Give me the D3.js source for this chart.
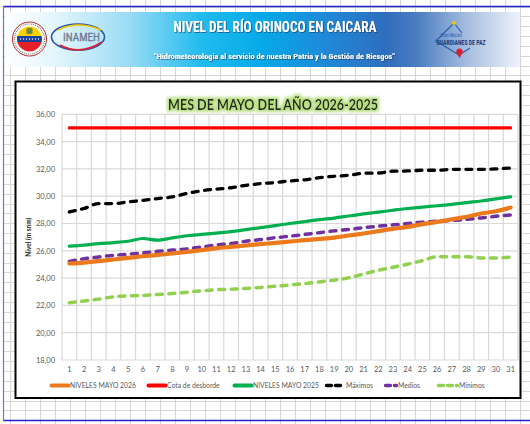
<!DOCTYPE html>
<html>
<head>
<meta charset="utf-8">
<script src="https://cdn.jsdelivr.net/npm/d3@7"></script>
<style>
  body { margin: 0; background: #fff; }
  svg { display: block; }
</style>
</head>
<body>
<div id="chart"></div>
<script>
'use strict';

// datos del gráfico
const dias = [1, 2, 3, 4, 5, 6, 7, 8, 9, 10, 11, 12, 13, 14, 15, 16, 17, 18, 19, 20, 21, 22, 23, 24, 25, 26, 27, 28, 29, 30, 31];
const yTicks = [18, 20, 22, 24, 26, 28, 30, 32, 34, 36];
const niveles2026 = [25.07, 25.14, 25.24, 25.36, 25.48, 25.60, 25.70, 25.80, 25.92, 26.05, 26.19, 26.29, 26.39, 26.49, 26.58, 26.68, 26.78, 26.87, 26.97, 27.12, 27.27, 27.44, 27.61, 27.75, 27.95, 28.12, 28.30, 28.49, 28.73, 28.90, 29.17];
const cotaDesborde = [35, 35, 35, 35, 35, 35, 35, 35, 35, 35, 35, 35, 35, 35, 35, 35, 35, 35, 35, 35, 35, 35, 35, 35, 35, 35, 35, 35, 35, 35, 35];
const niveles2025 = [26.34, 26.41, 26.53, 26.60, 26.70, 26.90, 26.78, 26.95, 27.10, 27.20, 27.30, 27.40, 27.55, 27.70, 27.85, 28.00, 28.14, 28.28, 28.40, 28.55, 28.70, 28.83, 28.97, 29.10, 29.20, 29.30, 29.40, 29.53, 29.65, 29.80, 29.95];
const maximos = [28.85, 29.10, 29.46, 29.46, 29.58, 29.70, 29.83, 29.95, 30.20, 30.40, 30.52, 30.62, 30.80, 30.92, 31.00, 31.12, 31.20, 31.36, 31.46, 31.53, 31.68, 31.70, 31.83, 31.85, 31.90, 31.90, 31.97, 31.97, 31.97, 32.00, 32.07];
const medios = [25.22, 25.42, 25.55, 25.67, 25.75, 25.85, 25.96, 26.05, 26.14, 26.28, 26.43, 26.53, 26.70, 26.82, 26.96, 27.07, 27.20, 27.33, 27.46, 27.56, 27.70, 27.80, 27.90, 28.00, 28.10, 28.17, 28.22, 28.30, 28.41, 28.53, 28.63];
const minimos = [22.19, 22.32, 22.46, 22.63, 22.70, 22.73, 22.80, 22.87, 22.97, 23.07, 23.15, 23.19, 23.24, 23.32, 23.40, 23.50, 23.60, 23.72, 23.85, 24.02, 24.30, 24.57, 24.80, 25.02, 25.28, 25.56, 25.56, 25.56, 25.48, 25.48, 25.53];

const series = [
    { name: 'NIVELES MAYO 2026', values: niveles2026, color: '#ec7a1c', width: 4.2, dash: null },
    { name: 'Cota de desborde', values: cotaDesborde, color: '#ff0000', width: 3.2, dash: null },
    { name: 'NIVELES MAYO 2025', values: niveles2025, color: '#00b050', width: 3.2, dash: null },
    { name: 'Máximos', values: maximos, color: '#000000', width: 3.3, dash: '6,6.5' },
    { name: 'Medios', values: medios, color: '#7030a0', width: 3.5, dash: '6,6.5' },
    { name: 'Mínimos', values: minimos, color: '#92d050', width: 3.5, dash: '6,6.5' }
];
// orden de dibujo (el naranja arriba del morado)
const drawOrder = ['Mínimos', 'NIVELES MAYO 2025', 'Medios', 'NIVELES MAYO 2026', 'Máximos', 'Cota de desborde'];

const width = 530;
const height = 424;
const font = 'Lato, "Open Sans", "DejaVu Sans", sans-serif';
const narrow = '"Liberation Sans Narrow", "Arial Narrow", "Roboto Condensed", "Liberation Sans", sans-serif';

const svg = d3.select('#chart').append('svg')
    .attr('width', width)
    .attr('height', height)
    .attr('viewBox', `0 0 ${width} ${height}`);

const defs = svg.append('defs');

// fondo tipo hoja de cálculo
const sheet = svg.append('g').attr('class', 'sheet');
sheet.selectAll('.col')
    .data(d3.range(10, 531, 15))
    .enter().append('line')
    .attr('x1', d => d + 0.5).attr('x2', d => d + 0.5)
    .attr('y1', 0).attr('y2', height)
    .attr('stroke', '#d6d6d6').attr('stroke-width', 1);
sheet.selectAll('.row')
    .data(d3.range(6.5, 424, 9.85))
    .enter().append('line')
    .attr('x1', 3).attr('x2', width)
    .attr('y1', d => Math.round(d) + 0.5).attr('y2', d => Math.round(d) + 0.5)
    .attr('stroke', '#d6d6d6').attr('stroke-width', 1);
// bordes azules de la página
sheet.append('line').attr('x1', 3).attr('x2', width).attr('y1', 6.5).attr('y2', 6.5)
    .attr('stroke', '#2222cc').attr('stroke-width', 1.5);
sheet.append('line').attr('x1', 3).attr('x2', width).attr('y1', 420.5).attr('y2', 420.5)
    .attr('stroke', '#2222cc').attr('stroke-width', 1.5);
sheet.append('line').attr('x1', 3.5).attr('x2', 3.5).attr('y1', 6).attr('y2', 421)
    .attr('stroke', '#7272d6').attr('stroke-width', 1.2);

// banner de cabecera
const grad = defs.append('linearGradient').attr('id', 'bannerGrad')
    .attr('x1', '0%').attr('x2', '100%').attr('y1', '0%').attr('y2', '0%');
[
    ['0%', '#ffffff'], ['10%', '#e3f5fc'], ['24%', '#9adcf6'], ['38%', '#22bbee'],
    ['50%', '#05a9e8'], ['62%', '#1f8ad9'], ['74%', '#2f6dbd'], ['80%', '#4b7dc1'],
    ['90%', '#a8bfe0'], ['100%', '#eef3fa']
].forEach(s => grad.append('stop').attr('offset', s[0]).attr('stop-color', s[1]));

const shadow = defs.append('filter').attr('id', 'txtShadow')
    .attr('x', '-5%').attr('y', '-30%').attr('width', '110%').attr('height', '160%');
shadow.append('feDropShadow').attr('dx', 0.8).attr('dy', 0.8)
    .attr('stdDeviation', 0.5).attr('flood-color', '#1d3b5e').attr('flood-opacity', 0.8);

const banner = svg.append('g').attr('class', 'banner');
banner.append('rect')
    .attr('x', 5).attr('y', 12).attr('width', 515).attr('height', 55)
    .attr('fill', 'url(#bannerGrad)');
banner.append('text')
    .attr('x', 275).attr('y', 32)
    .attr('text-anchor', 'middle')
    .attr('font-family', narrow).attr('font-weight', 'bold').attr('font-size', 14.5)
    .attr('fill', '#ffffff')
    .attr('textLength', 203).attr('lengthAdjust', 'spacingAndGlyphs')
    .attr('filter', 'url(#txtShadow)')
    .text('NIVEL DEL RÍO ORINOCO EN CAICARA');
banner.append('text')
    .attr('x', 274.5).attr('y', 58.5)
    .attr('text-anchor', 'middle')
    .attr('font-family', narrow).attr('font-weight', 'bold').attr('font-size', 7.5)
    .attr('fill', '#ffffff')
    .attr('textLength', 241).attr('lengthAdjust', 'spacingAndGlyphs')
    .attr('filter', 'url(#txtShadow)')
    .text('"Hidrometeorologia al servicio de nuestra Patria y la Gestión de Riesgos"');

// logo izquierdo (escudo circular)
const clipLogo = defs.append('clipPath').attr('id', 'clipLogo');
clipLogo.append('circle').attr('cx', 29.5).attr('cy', 39).attr('r', 12.5);
const logo1 = banner.append('g');
logo1.append('circle').attr('cx', 29.5).attr('cy', 39).attr('r', 17)
    .attr('fill', '#ffffff').attr('stroke', '#b22a2a').attr('stroke-width', 1);
logo1.append('circle').attr('cx', 29.5).attr('cy', 39).attr('r', 15)
    .attr('fill', 'none').attr('stroke', '#777').attr('stroke-width', 1.2)
    .attr('stroke-dasharray', '1,1');
const flag = logo1.append('g').attr('clip-path', 'url(#clipLogo)');
flag.append('rect').attr('x', 16).attr('y', 26).attr('width', 27).attr('height', 10).attr('fill', '#ffd400');
flag.append('rect').attr('x', 16).attr('y', 36).attr('width', 27).attr('height', 6).attr('fill', '#1a3f9e');
flag.append('rect').attr('x', 16).attr('y', 42).attr('width', 27).attr('height', 11).attr('fill', '#e32027');
flag.selectAll('.star').data([21, 24, 27, 30, 33, 36, 39]).enter().append('circle')
    .attr('cx', d => d - 0.5).attr('cy', 39).attr('r', 0.7).attr('fill', '#fff');
flag.append('rect').attr('x', 26.5).attr('y', 28).attr('width', 6).attr('height', 6)
    .attr('rx', 1.5).attr('fill', '#5e8f3a').attr('stroke', '#c28a1a').attr('stroke-width', 0.6);

// logo INAMEH
const logo2 = banner.append('g');
logo2.append('ellipse').attr('cx', 78).attr('cy', 37).attr('rx', 26.5).attr('ry', 13)
    .attr('fill', 'none').attr('stroke', '#2a55b0').attr('stroke-width', 1.6);
logo2.append('path')
    .attr('d', 'M 58 30 Q 78 20 101 30')
    .attr('fill', 'none').attr('stroke', '#f2c300').attr('stroke-width', 1.4);
logo2.append('path')
    .attr('d', 'M 60 45 Q 80 56 102 42')
    .attr('fill', 'none').attr('stroke', '#d8232a').attr('stroke-width', 1.6);
logo2.append('text')
    .attr('x', 81.5).attr('y', 41)
    .attr('text-anchor', 'middle')
    .attr('font-family', narrow).attr('font-size', 11)
    .attr('fill', '#8c8c8c').attr('stroke', '#5a6a90').attr('stroke-width', 0.3)
    .attr('textLength', 37).attr('lengthAdjust', 'spacingAndGlyphs')
    .text('INAMEH');

// logo derecho
const logo3 = banner.append('g');
logo3.append('path')
    .attr('d', 'M 454 23 L 436 41 L 459 55 L 470 48')
    .attr('fill', 'none').attr('stroke', '#2d5da8').attr('stroke-width', 1.2);
logo3.append('path')
    .attr('d', 'M 454 23 L 462 33')
    .attr('fill', 'none').attr('stroke', '#2d5da8').attr('stroke-width', 1.2);
logo3.append('circle').attr('cx', 454).attr('cy', 23).attr('r', 2).attr('fill', '#f1c40f');
logo3.append('circle').attr('cx', 436.5).attr('cy', 41).attr('r', 1.8).attr('fill', '#1f7fd0');
logo3.append('path')
    .attr('d', 'M 459.5 58 L 456.3 52.5 A 3.3 3.3 0 1 1 462.7 52.5 Z')
    .attr('fill', '#d62030');
logo3.append('text')
    .attr('x', 451).attr('y', 37)
    .attr('text-anchor', 'middle')
    .attr('font-family', narrow).attr('font-size', 4.5)
    .attr('fill', '#2d5da8')
    .text('Gran Misión');
logo3.append('text')
    .attr('x', 461).attr('y', 45)
    .attr('text-anchor', 'middle')
    .attr('font-family', narrow).attr('font-weight', 'bold').attr('font-size', 6.5)
    .attr('fill', '#1c3f7c')
    .attr('textLength', 49).attr('lengthAdjust', 'spacingAndGlyphs')
    .text('GUARDIANES DE PAZ');

// marco del gráfico
svg.append('rect')
    .attr('x', 15.5).attr('y', 81.5).attr('width', 505).attr('height', 316.5)
    .attr('fill', '#ffffff').attr('stroke', '#000000').attr('stroke-width', 2);

// título con resplandor verde
const glow = defs.append('filter').attr('id', 'glow')
    .attr('x', '-10%').attr('y', '-50%').attr('width', '120%').attr('height', '200%');
glow.append('feMorphology').attr('in', 'SourceAlpha').attr('operator', 'dilate').attr('radius', 1.6).attr('result', 'thick');
glow.append('feGaussianBlur').attr('in', 'thick').attr('stdDeviation', 1.6).attr('result', 'blur');
glow.append('feFlood').attr('flood-color', '#a9d86a').attr('flood-opacity', 0.85);
glow.append('feComposite').attr('in2', 'blur').attr('operator', 'in').attr('result', 'glowColor');
const glowMerge = glow.append('feMerge');
glowMerge.append('feMergeNode').attr('in', 'glowColor');
glowMerge.append('feMergeNode').attr('in', 'SourceGraphic');

svg.append('text')
    .attr('x', 273).attr('y', 110)
    .attr('text-anchor', 'middle')
    .attr('font-family', font).attr('font-weight', 'bold').attr('font-size', 14.5)
    .attr('fill', '#262626')
    .attr('textLength', 210).attr('lengthAdjust', 'spacingAndGlyphs')
    .attr('filter', 'url(#glow)')
    .text('MES DE MAYO DEL AÑO 2026-2025');

// escalas
const plot = { left: 62, right: 518, top: 114.3, bottom: 360 };
const x = d3.scaleBand().domain(dias).range([plot.left, plot.right]).padding(0);
const y = d3.scaleLinear().domain([18, 36]).range([plot.bottom, plot.top]);
const cx = d => x(d) + x.bandwidth() / 2;

// cuadrícula
const grid = svg.append('g').attr('class', 'grid');
grid.selectAll('.hgrid').data(yTicks).enter().append('line')
    .attr('x1', plot.left).attr('x2', plot.right)
    .attr('y1', d => y(d)).attr('y2', d => y(d))
    .attr('stroke', '#d9d9d9').attr('stroke-width', 1.2);
grid.selectAll('.vgrid').data(dias.concat(['end'])).enter().append('line')
    .attr('x1', d => d === 'end' ? plot.right : x(d))
    .attr('x2', d => d === 'end' ? plot.right : x(d))
    .attr('y1', plot.top).attr('y2', plot.bottom)
    .attr('stroke', '#d9d9d9').attr('stroke-width', 1.2);

// ejes
const esLocale = d3.formatLocale({ decimal: ',', thousands: '.', grouping: [3], currency: ['', ''] });
const yAxis = d3.axisLeft(y).tickValues(yTicks).tickSize(0).tickPadding(7)
    .tickFormat(esLocale.format('.2f'));
const gy = svg.append('g').attr('transform', `translate(${plot.left},0)`).call(yAxis);
gy.select('.domain').remove();
gy.selectAll('text').attr('font-family', font).attr('font-size', 7.5).attr('fill', '#595959');

const xAxis = d3.axisBottom(x).tickSize(0).tickPadding(7);
const gx = svg.append('g').attr('transform', `translate(0,${plot.bottom})`).call(xAxis);
gx.select('.domain').remove();
gx.selectAll('text').attr('font-family', font).attr('font-size', 7.5).attr('fill', '#595959');

svg.append('text')
    .attr('transform', `translate(31,${(plot.top + plot.bottom) / 2}) rotate(-90)`)
    .attr('text-anchor', 'middle')
    .attr('font-family', font).attr('font-weight', 'bold').attr('font-size', 6.5)
    .attr('fill', '#262626')
    .text('Nivel (m snm)');

// líneas
const line = d3.line()
    .x((v, i) => cx(dias[i]))
    .y(v => y(v))
    .curve(d3.curveMonotoneX);
const lineWrap = svg.append('g').attr('class', 'lines');
drawOrder.forEach(name => {
    const s = series.find(d => d.name === name);
    lineWrap.append('path')
        .datum(s.values)
        .attr('d', line)
        .attr('fill', 'none')
        .attr('stroke', s.color)
        .attr('stroke-width', s.width)
        .attr('stroke-linecap', 'round')
        .attr('stroke-linejoin', 'round')
        .attr('stroke-dasharray', s.dash);
});

// leyenda
const legendPos = [
    { x0: 50, x1: 70 }, { x0: 147, x1: 167 }, { x0: 233, x1: 253 },
    { x0: 325, x1: 346 }, { x0: 384, x1: 398 }, { x0: 437, x1: 459 }
];
const legend = svg.append('g').attr('class', 'legend');
series.forEach((s, i) => {
    const p = legendPos[i];
    legend.append('line')
        .attr('x1', p.x0 + 1.5).attr('x2', p.x1 - 1.5)
        .attr('y1', 385.5).attr('y2', 385.5)
        .attr('stroke', s.color)
        .attr('stroke-width', s.dash ? 3.4 : 4)
        .attr('stroke-linecap', 'round')
        .attr('stroke-dasharray', s.dash ? '5,4' : null);
    legend.append('text')
        .attr('x', p.x1).attr('y', 388)
        .attr('font-family', font).attr('font-size', 6.8)
        .attr('fill', '#595959')
        .text(s.name);
});
</script>
</body>
</html>
